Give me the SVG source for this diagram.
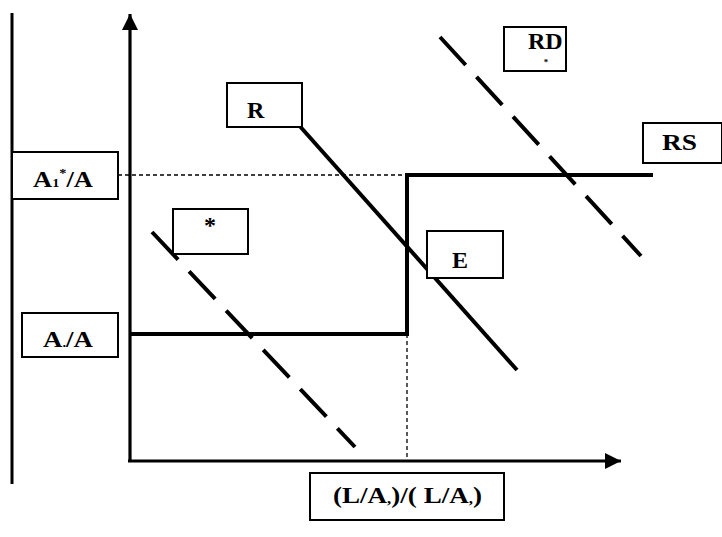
<svg xmlns="http://www.w3.org/2000/svg" width="722" height="537" viewBox="0 0 722 537">
<style>
.box{fill:#fff;stroke:#000;stroke-width:2}
.lbl{font-family:"Liberation Serif",serif;font-weight:bold;font-size:24px;fill:#000}
.thick{stroke:#000;stroke-width:4;fill:none}
.dash{stroke:#000;stroke-width:4;fill:none;stroke-dasharray:38 16}
.thin{stroke:#000;stroke-width:1.3;fill:none;stroke-dasharray:4 3}
</style>
<defs>
<marker id="ah" viewBox="0 0 10 10" refX="10" refY="5" markerWidth="5" markerHeight="5" orient="auto" markerUnits="strokeWidth">
<path d="M0,0 L10,5 L0,10 Z" fill="#000"/>
</marker>
</defs>
<rect width="722" height="537" fill="#fff"/>
<g id="connectors">
<line x1="12" y1="13" x2="12" y2="484" stroke="#000" stroke-width="3"/>
<line x1="130" y1="461" x2="130" y2="14" stroke="#000" stroke-width="3.2" marker-end="url(#ah)"/>
<line x1="128" y1="461" x2="621" y2="461" stroke="#000" stroke-width="3.2" marker-end="url(#ah)"/>
<line class="thin" x1="118" y1="175" x2="407" y2="175"/>
<line class="thin" x1="407" y1="334" x2="407" y2="461"/>
<polyline class="thick" points="130,334 407,334 407,175 653,175"/>
<line class="thick" x1="297" y1="123" x2="517" y2="370"/>
<line class="dash" x1="152" y1="232" x2="355" y2="447"/>
<line class="dash" x1="440" y1="37" x2="641" y2="256"/>
</g>
<g id="node-a1star">
<rect class="box" x="12" y="152" width="106" height="47"/>
<text class="lbl" x="33" y="187" textLength="60" lengthAdjust="spacingAndGlyphs">A<tspan font-size="13">1</tspan><tspan font-size="13" dy="-10">*</tspan><tspan dy="10">/A</tspan></text>
</g>
<g id="node-a2">
<rect class="box" x="22" y="313" width="96" height="44"/>
<text class="lbl" x="43" y="347" textLength="50" lengthAdjust="spacingAndGlyphs">A<tspan font-size="13">.</tspan>/A</text>
</g>
<g id="node-star">
<rect class="box" x="173" y="209" width="75" height="45"/>
<text class="lbl" x="210" y="233" font-size="14" text-anchor="middle">*</text>
</g>
<g id="node-r">
<rect class="box" x="227" y="83" width="75" height="44"/>
<text class="lbl" x="247" y="118">R</text>
</g>
<g id="node-rd">
<rect class="box" x="504" y="27" width="62" height="44"/>
<text class="lbl" x="528" y="49">RD<tspan font-size="9" dx="-19" dy="16">*</tspan></text>
</g>
<g id="node-rs">
<rect class="box" x="643" y="123" width="79" height="40"/>
<text class="lbl" x="662" y="150" textLength="35" lengthAdjust="spacingAndGlyphs">RS</text>
</g>
<g id="node-e">
<rect class="box" x="427" y="231" width="76" height="47"/>
<text class="lbl" x="452" y="268">E</text>
</g>
<g id="node-ratio">
<rect class="box" x="310" y="473" width="194" height="47"/>
<text class="lbl" x="333" y="503" textLength="149" lengthAdjust="spacingAndGlyphs">(L/A<tspan font-size="15">,</tspan>)/( L/A<tspan font-size="15">,</tspan>)</text>
</g>
</svg>
